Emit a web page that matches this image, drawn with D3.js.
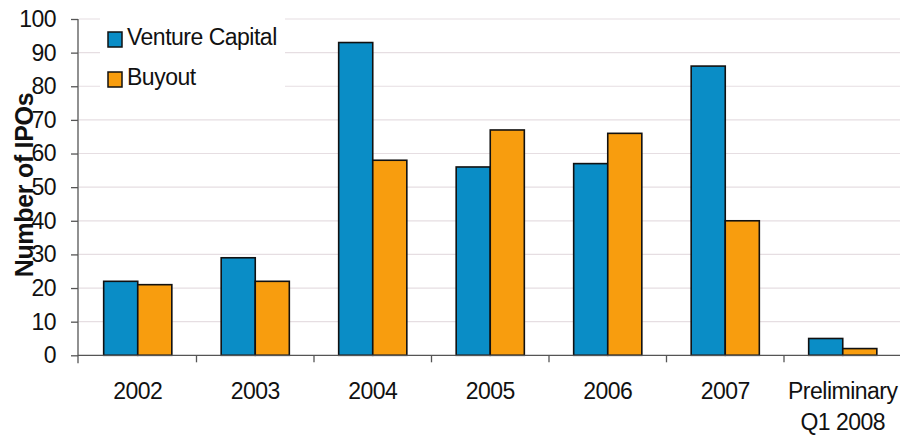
<!DOCTYPE html>
<html>
<head>
<meta charset="utf-8">
<script src="https://cdn.jsdelivr.net/npm/d3@7"></script>
<style>
  html, body { margin: 0; padding: 0; background: #fff; }
  svg { display: block; font-family: "Liberation Sans", Arial, sans-serif; }
</style>
</head>
<body>
<svg id="chart" width="900" height="435"></svg>
<script>
// IPO counts by year
const categories = ["2002", "2003", "2004", "2005", "2006", "2007", "Preliminary\nQ1 2008"];
const seriesNames = ["Venture Capital", "Buyout"];
const ventureCapital = [22, 29, 93, 56, 57, 86, 5];
const buyout = [21, 22, 58, 67, 66, 40, 2];
const yTicks = [0, 10, 20, 30, 40, 50, 60, 70, 80, 90, 100];
const colors = ["#0A8DC6", "#F89D0E"];

(function () {
  const svg = d3.select("#chart");
  const plotLeft = 79, plotRight = 901.5, plotTop = 19, plotBottom = 355.3;
  const fontSize = 23, spacing = "-0.5px";

  const x = d3.scaleBand().domain(categories).range([plotLeft, plotRight]).paddingInner(0).paddingOuter(0);
  const x1 = d3.scaleBand().domain(seriesNames)
    .range([x.bandwidth() * 0.21, x.bandwidth() * 0.79]).padding(0);
  const y = d3.scaleLinear().domain([0, 100]).range([plotBottom, plotTop]);

  // gridlines
  svg.append("g").selectAll("line").data(yTicks.filter(d => d > 0)).join("line")
    .attr("x1", plotLeft).attr("x2", 900)
    .attr("y1", d => y(d)).attr("y2", d => y(d))
    .attr("stroke", "#E6DEE2").attr("stroke-width", 1.2);

  // bars
  const rows = categories.map((c, i) => ({ cat: c, vals: [ventureCapital[i], buyout[i]] }));
  const groups = svg.append("g").selectAll("g").data(rows).join("g")
    .attr("transform", d => `translate(${x(d.cat)},0)`);
  groups.selectAll("rect").data(d => d.vals.map((v, j) => ({ key: seriesNames[j], v, j }))).join("rect")
    .attr("x", d => x1(d.key))
    .attr("width", x1.bandwidth())
    .attr("y", d => y(d.v))
    .attr("height", d => y(0) - y(d.v))
    .attr("fill", d => colors[d.j])
    .attr("stroke", "#111")
    .attr("stroke-width", 1.6);

  // y axis
  const yAxis = svg.append("g").attr("transform", `translate(${plotLeft - 1},0)`)
    .call(d3.axisLeft(y).tickValues(yTicks).tickSize(7).tickPadding(15).tickSizeOuter(0));
  yAxis.select(".domain").attr("stroke", "#555").attr("stroke-width", 1.3)
    .attr("d", `M0,${plotTop}V${plotBottom + 8}`);
  yAxis.selectAll(".tick line").attr("stroke", "#555").attr("stroke-width", 1.3);
  yAxis.selectAll(".tick text")
    .attr("font-size", fontSize).attr("fill", "#111")
    .attr("letter-spacing", spacing)
    .attr("font-family", "'Liberation Sans', Arial, sans-serif");

  // x axis
  const xAxis = svg.append("g").attr("transform", `translate(0,${plotBottom})`)
    .call(d3.axisBottom(x).tickSize(0).tickSizeOuter(0));
  xAxis.select(".domain").attr("stroke", "#555").attr("stroke-width", 1.3)
    .attr("d", `M${plotLeft - 1},0H900`);
  xAxis.selectAll(".tick text").each(function (d) {
    const t = d3.select(this);
    t.text(null).attr("y", 0).attr("dy", null)
      .attr("font-size", fontSize).attr("fill", "#111")
      .attr("letter-spacing", spacing)
      .attr("font-family", "'Liberation Sans', Arial, sans-serif");
    d.split("\n").forEach((line, i) => {
      t.append("tspan").attr("x", 0).attr("y", 44 + i * 30.7).text(line);
    });
  });
  // category boundary ticks
  svg.append("g").selectAll("line").data(categories.slice(1)).join("line")
    .attr("x1", d => x(d)).attr("x2", d => x(d))
    .attr("y1", plotBottom).attr("y2", plotBottom + 7)
    .attr("stroke", "#555").attr("stroke-width", 1.3);

  // axis title
  svg.append("text")
    .attr("transform", "translate(33,185) rotate(-90)")
    .attr("text-anchor", "middle")
    .attr("font-size", 25).attr("font-weight", "bold").attr("fill", "#111")
    .attr("letter-spacing", "-0.3px")
    .text("Number of IPOs");

  // legend
  const legend = svg.append("g");
  legend.append("rect").attr("x", 100).attr("y", 10).attr("width", 185).attr("height", 86).attr("fill", "#fff");
  seriesNames.forEach((name, i) => {
    legend.append("rect")
      .attr("x", 108).attr("y", 32 + i * 40).attr("width", 14).attr("height", 15)
      .attr("fill", colors[i]).attr("stroke", "#111").attr("stroke-width", 1.5);
    legend.append("text")
      .attr("x", 127).attr("y", 45 + i * 40)
      .attr("font-size", fontSize).attr("fill", "#111")
      .attr("letter-spacing", spacing)
      .text(name);
  });
})();
</script>
</body>
</html>
